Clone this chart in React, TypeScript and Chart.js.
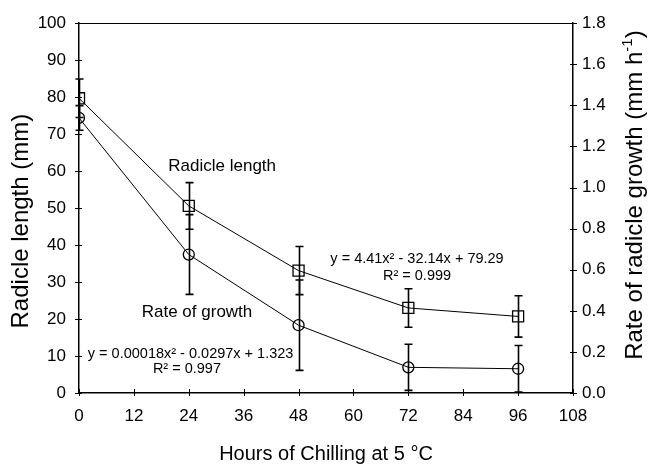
import React, { useEffect, useRef } from "react";
import { Chart, registerables } from "chart.js";

Chart.register(...registerables);

// ---- data ----
const hours = [0, 24, 48, 72, 96];
const radicleLength = [79.7, 50.6, 33.1, 23.0, 20.7]; // mm (left axis)
const radicleLengthErr = [5.2, 6.3, 6.5, 5.2, 5.6];
const growthRate = [1.339, 0.674, 0.33, 0.125, 0.118]; // mm h-1 (right axis)
const growthRateErr = [0.06, 0.194, 0.22, 0.112, 0.113];

const xMax = 108;
const xStep = 12;
const leftMax = 100;
const leftStep = 10;
const rightMax = 1.8;
const rightStep = 0.2;

const xTitle = "Hours of Chilling at 5 \u00B0C";
const leftTitle = "Radicle length (mm)";
const rightTitleMain = "Rate of radicle growth (mm h";
const rightTitleSup = "-1";
const rightTitleEnd = ")";

// annotation texts, anchored in data coordinates (hours, left-axis units)
const noteTexts = [
  "Radicle length",
  "Rate of growth",
  "y = 0.00018x\u00B2 - 0.0297x + 1.323",
  "R\u00B2 = 0.997",
  "y = 4.41x\u00B2 - 32.14x + 79.29",
  "R\u00B2 = 0.999",
];
const noteX = [31.3, 25.8, 24.4, 23.6, 73.9, 73.9];
const noteY = [61.2, 21.9, 10.5, 6.6, 36.2, 31.6];
const noteSize = [17, 17, 14.5, 14.5, 14.5, 14.5];

const FONT = "'Liberation Sans', Arial, Helvetica, sans-serif";

const decor = {
  id: "decor",
  afterDatasetsDraw(chart: any) {
    const { ctx, chartArea: a, scales } = chart;
    const sx = scales.x;
    const sy = scales.y;
    const sy1 = scales.y1;
    ctx.save();
    ctx.strokeStyle = "#000";
    ctx.fillStyle = "#000";
    ctx.lineWidth = 1;

    // top frame line
    ctx.beginPath();
    ctx.moveTo(a.left, Math.round(a.top) + 0.5);
    ctx.lineTo(a.right, Math.round(a.top) + 0.5);
    ctx.stroke();

    // tick marks crossing the axes
    ctx.beginPath();
    sy.ticks.forEach((t: any) => {
      const p = Math.round(sy.getPixelForValue(t.value)) + 0.5;
      ctx.moveTo(a.left - 4, p);
      ctx.lineTo(a.left + 3, p);
    });
    sy1.ticks.forEach((t: any) => {
      const p = Math.round(sy1.getPixelForValue(t.value)) + 0.5;
      ctx.moveTo(a.right - 3, p);
      ctx.lineTo(a.right + 4, p);
    });
    sx.ticks.forEach((t: any) => {
      const p = Math.round(sx.getPixelForValue(t.value)) + 0.5;
      ctx.moveTo(p, a.bottom - 4);
      ctx.lineTo(p, a.bottom + 3);
    });
    ctx.stroke();

    // error bars
    ctx.lineWidth = 1.6;
    const drawErr = (vals: number[], errs: number[], sc: any) => {
      hours.forEach((h, i) => {
        const px = Math.round(sx.getPixelForValue(h)) + 0.5;
        const top = sc.getPixelForValue(vals[i] + errs[i]);
        const bot = sc.getPixelForValue(Math.max(0, vals[i] - errs[i]));
        ctx.beginPath();
        ctx.moveTo(px, top);
        ctx.lineTo(px, bot);
        ctx.moveTo(px - 4, top);
        ctx.lineTo(px + 4, top);
        ctx.moveTo(px - 4, bot);
        ctx.lineTo(px + 4, bot);
        ctx.stroke();
      });
    };
    drawErr(radicleLength, radicleLengthErr, sy);
    drawErr(growthRate, growthRateErr, sy1);

    // annotations
    ctx.textAlign = "center";
    ctx.textBaseline = "middle";
    noteTexts.forEach((t, i) => {
      ctx.font = `${noteSize[i]}px ${FONT}`;
      ctx.fillText(t, sx.getPixelForValue(noteX[i]), sy.getPixelForValue(noteY[i]));
    });

    const mid = (a.top + a.bottom) / 2;
    const mainFont = `24px ${FONT}`;
    const supFont = `15px ${FONT}`;

    // left axis title (reading bottom-to-top)
    ctx.save();
    ctx.translate(21, mid + 13);
    ctx.rotate(-Math.PI / 2);
    ctx.textAlign = "center";
    ctx.textBaseline = "middle";
    ctx.font = mainFont;
    ctx.fillText(leftTitle, 0, 0);
    ctx.restore();

    // right axis title (reading bottom-to-top)
    ctx.save();
    ctx.translate(chart.width - 23, mid - 13);
    ctx.rotate(-Math.PI / 2);
    ctx.textAlign = "left";
    ctx.textBaseline = "middle";
    ctx.font = mainFont;
    const w1 = ctx.measureText(rightTitleMain).width;
    const w3 = ctx.measureText(rightTitleEnd).width;
    ctx.font = supFont;
    const w2 = ctx.measureText(rightTitleSup).width;
    let start = -(w1 + w2 + w3) / 2;
    ctx.font = mainFont;
    ctx.fillText(rightTitleMain, start, 0);
    start += w1;
    ctx.font = supFont;
    ctx.fillText(rightTitleSup, start, -7);
    start += w2;
    ctx.font = mainFont;
    ctx.fillText(rightTitleEnd, start, 0);
    ctx.restore();

    ctx.restore();
  },
};

export default function App() {
  const ref = useRef<HTMLCanvasElement | null>(null);

  useEffect(() => {
    document.body.style.margin = "0";
    const canvas = ref.current;
    if (!canvas) return;
    const chart = new Chart(canvas, {
      type: "line",
      data: {
        datasets: [
          {
            label: "Radicle length",
            data: hours.map((h, i) => ({ x: h, y: radicleLength[i] })),
            yAxisID: "y",
            borderColor: "#000",
            borderWidth: 1,
            pointStyle: "rect",
            pointRadius: 7.8,
            pointBorderWidth: 1.3,
            pointBorderColor: "#000",
            pointBackgroundColor: "rgba(0,0,0,0)",
            fill: false,
            tension: 0,
          },
          {
            label: "Rate of growth",
            data: hours.map((h, i) => ({ x: h, y: growthRate[i] })),
            yAxisID: "y1",
            borderColor: "#000",
            borderWidth: 1,
            pointStyle: "circle",
            pointRadius: 5.5,
            pointBorderWidth: 1.3,
            pointBorderColor: "#000",
            pointBackgroundColor: "rgba(0,0,0,0)",
            fill: false,
            tension: 0,
          },
        ],
      },
      options: {
        responsive: false,
        animation: false,
        devicePixelRatio: 1,
        layout: { padding: { top: 17, left: 0, right: 0, bottom: 0 } },
        plugins: { legend: { display: false }, tooltip: { enabled: false } },
        scales: {
          x: {
            type: "linear",
            min: 0,
            max: xMax,
            grid: { display: false, drawTicks: false },
            border: { display: true, color: "#000", width: 1.5 },
            ticks: {
              stepSize: xStep,
              color: "#000",
              padding: 13,
              font: { family: FONT, size: 17 },
            },
            title: {
              display: true,
              text: xTitle,
              color: "#000",
              font: { family: FONT, size: 20, lineHeight: 1 },
              padding: { top: 0, bottom: 0 },
            },
            afterFit: (s: any) => {
              s.height = 71;
            },
          },
          y: {
            type: "linear",
            position: "left",
            min: 0,
            max: leftMax,
            grid: { display: false, drawTicks: false },
            border: { display: true, color: "#000", width: 1.5 },
            ticks: {
              stepSize: leftStep,
              color: "#000",
              padding: 13,
              font: { family: FONT, size: 17 },
            },
            afterFit: (s: any) => {
              s.width = 79;
            },
          },
          y1: {
            type: "linear",
            position: "right",
            min: 0,
            max: rightMax,
            grid: { display: false, drawTicks: false },
            border: { display: true, color: "#000", width: 1.5 },
            ticks: {
              stepSize: rightStep,
              color: "#000",
              padding: 9,
              font: { family: FONT, size: 17 },
              callback: (v: any) => Number(v).toFixed(1),
            },
            afterFit: (s: any) => {
              s.width = 85;
            },
          },
        },
      },
      plugins: [decor],
    });
    return () => chart.destroy();
  }, []);

  return (
    <div style={{ position: "absolute", left: 0, top: 0, width: 658, height: 464, background: "#fff" }}>
      <canvas ref={ref} width={658} height={464} style={{ width: 658, height: 464, display: "block" }} />
    </div>
  );
}
